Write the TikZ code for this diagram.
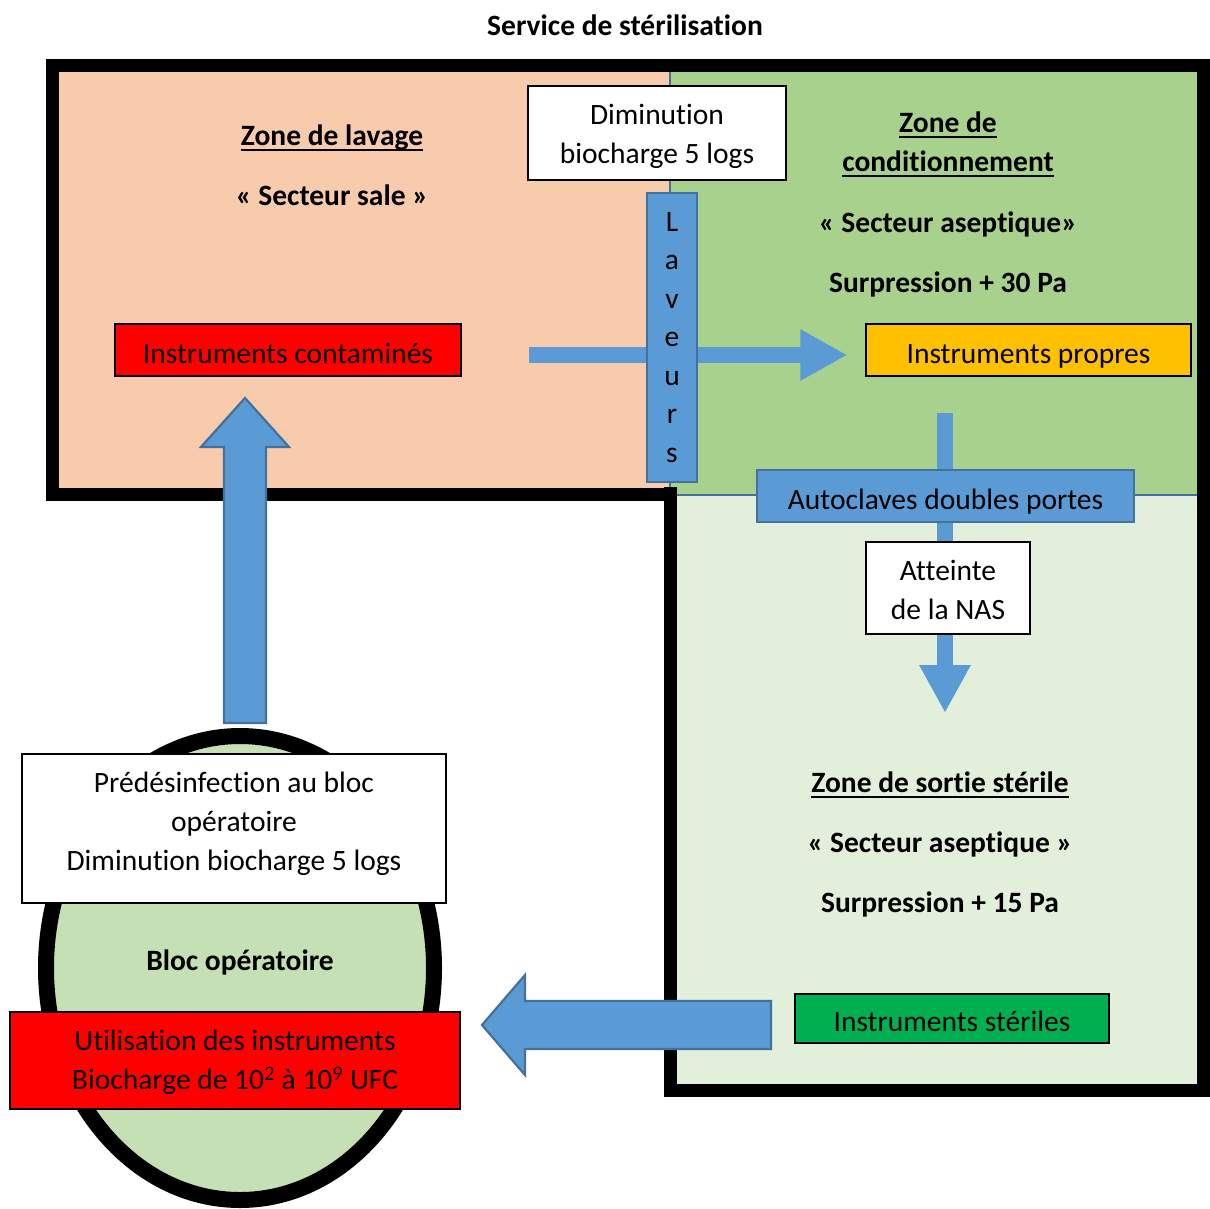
\documentclass[tikz,border=0pt]{standalone}
\usepackage{fontspec}
\setmainfont{Carlito}[Ligatures=NoCommon]
\usetikzlibrary{positioning,arrows.meta,shapes.geometric}

\definecolor{lavagecol}{HTML}{F8CBAD}
\definecolor{conditcol}{HTML}{A9D18E}
\definecolor{sortiecol}{HTML}{E2EFDA}
\definecolor{bloccol}{HTML}{C5E0B4}
\definecolor{flowblue}{HTML}{5B9BD5}
\definecolor{flowedge}{HTML}{41719C}
\definecolor{propcol}{HTML}{FFC000}
\definecolor{stercol}{HTML}{00B050}

\newcommand{\diafont}{\fontsize{29.5}{39}\selectfont}
\newcommand{\zoneul}[1]{\setbox0\hbox{#1}\rlap{\rule[-5.2pt]{\wd0}{2.2pt}}\box0}

\tikzset{
  wall/.style={line width=13pt, line join=miter},
  lbl/.style={font=\diafont\bfseries, align=center, inner sep=0pt, text height=32pt, text depth=6pt},
  box/.style={draw=black, line width=1.3pt, font=\diafont, align=center, inner sep=0pt,
              text height=32pt, text depth=6pt},
  bluebox/.style={box, fill=flowblue, draw=flowedge, line width=2.5pt},
  flow/.style={draw=flowblue, line width=16pt},
  blockarrow/.style={fill=flowblue, draw=flowedge, line width=2.2pt, line join=miter},
}

\begin{document}
\begin{tikzpicture}[x=1pt,y=-1pt]
  \useasboundingbox (0,0) rectangle (1210,1208);

  % zones du service
  \fill[lavagecol] (52,65) rectangle (670,494);
  \fill[conditcol] (670,65) rectangle (1203,495);
  \fill[sortiecol] (670,495) rectangle (1203,1090);
  \draw[flowedge, line width=1.5pt] (670,72) -- (670,488);
  \draw[flowedge, line width=2pt] (677,495) -- (1197,495);
  \draw[wall] (670,494) -- (52,494) -- (52,65) -- (1203,65) -- (1203,1090)
              -- (670,1090) -- (670,487);

  \node[lbl] (title) at (625,22.5) {Service de stérilisation};

  % zone de lavage
  \node[lbl] (lavage) at (332,132.5) {\zoneul{Zone de lavage}};
  \node[lbl] (sale) at (332,192.5) {«~Secteur sale~»};
  \node[box, fill=red, minimum width=346pt, minimum height=52pt] (contam) at (288,350) {Instruments contaminés};
  \node[box, fill=white, minimum width=258pt, minimum height=94pt, text height=67pt] (dimin) at (657,133) {Diminution\\biocharge 5 logs};

  % zone de conditionnement
  \node[lbl, text height=63pt] (condit) at (948,143) {\zoneul{Zone de}\\\zoneul{conditionnement}};
  \node[lbl] (asept) at (948,219.5) {«~Secteur aseptique»};
  \node[lbl] (press30) at (948,279.5) {Surpression + 30 Pa};
  \node[box, fill=propcol, minimum width=325pt, minimum height=52pt] (propres) at (1028.5,350) {Instruments propres};

  \draw[flow, shorten <=67pt, shorten >=18pt, -{Triangle[width=48pt,length=47pt]}]
    ([yshift=-5pt]contam.east) -- ([yshift=-5pt]propres.west);
  \node[bluebox, minimum width=50pt, minimum height=289pt, font=\fontsize{29.5}{38.5}\selectfont,
        text height=255pt] (laveurs) at (672,337.5) {L\\a\\v\\e\\u\\r\\s};

  % autoclaves
  \node[bluebox, minimum width=377pt, minimum height=52pt] (autoclave) at (945.5,496) {Autoclaves doubles portes};
  \node[box, fill=white, minimum width=164pt, minimum height=92pt, text height=69pt] (nas) at (948,588) {Atteinte\\de la NAS};
  \coordinate (cleanStart) at (945,413);
  \coordinate (nasTip) at (945,713);
  \draw[flow, line width=15.5pt] (cleanStart) -- (autoclave.north -| cleanStart);
  \draw[flow, line width=15.5pt] (autoclave.south -| cleanStart) -- (nas.north -| cleanStart);
  \draw[flow, line width=15.5pt, -{Triangle[width=48pt,length=48pt]}] (nas.south -| cleanStart) -- (nasTip);

  % zone de sortie
  \node[lbl] (sortie) at (940,779.5) {\zoneul{Zone de sortie stérile}};
  \node[lbl] (asept2) at (940,839.5) {«~Secteur aseptique~»};
  \node[lbl] (press15) at (940,899.5) {Surpression + 15 Pa};
  \node[box, fill=stercol, minimum width=314pt, minimum height=49pt] (steriles) at (952,1018.5) {Instruments stériles};

  % bloc operatoire
  \node[ellipse, draw=black, line width=16pt, fill=bloccol, minimum width=388pt, minimum height=464pt, inner sep=0pt] (bloc) at (240,968) {};
  \node[lbl] (blocname) at (240,957.5) {Bloc opératoire};
  \node[box, fill=white, minimum width=424pt, minimum height=149pt, text height=90pt] (predes) at (234,828.5) {Prédésinfection au bloc\\opératoire\\Diminution biocharge 5 logs};
  \node[box, fill=red, minimum width=450pt, minimum height=97pt, text height=64pt] (usage) at (235,1060.5) {Utilisation des instruments\\Biocharge de 10\textsuperscript{2} à 10\textsuperscript{9} UFC};

  % grosses fleches
  \coordinate (upTail) at (245,723);
  \coordinate (upTip) at (245,398);
  \draw[blockarrow] ([xshift=-21pt]upTail) |- ([xshift=-44pt,yshift=-49pt]upTip) -- (upTip)
    -- ([xshift=44pt,yshift=-49pt]upTip) -| ([xshift=21pt]upTail) -- cycle;
  \coordinate (leftTail) at (771,1025);
  \coordinate (leftTip) at (482,1025);
  \draw[blockarrow] ([yshift=24pt]leftTail) -| ([xshift=43pt,yshift=50pt]leftTip) -- (leftTip)
    -- ([xshift=43pt,yshift=-50pt]leftTip) |- ([yshift=-24pt]leftTail) -- cycle;
\end{tikzpicture}
\end{document}
